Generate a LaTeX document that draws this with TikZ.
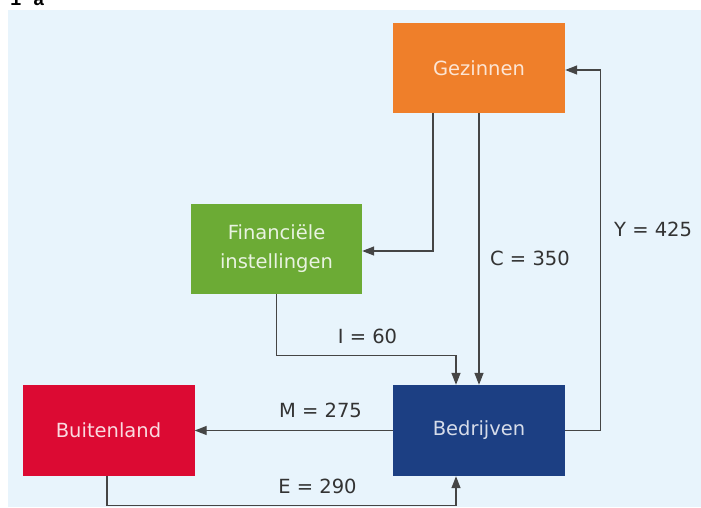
\documentclass[tikz,border=0pt]{standalone}
\usepackage{fontspec}
\setmainfont{DejaVu Sans}
\newfontfamily\monob{Liberation Mono}
\usetikzlibrary{arrows.meta}
\definecolor{bgblue}{HTML}{E8F4FC}
\definecolor{gezcol}{HTML}{EF7F2A}
\definecolor{fincol}{HTML}{6CAB35}
\definecolor{buicol}{HTML}{DC0A33}
\definecolor{bedcol}{HTML}{1C3F83}
\definecolor{linecol}{HTML}{454545}
\definecolor{labcol}{HTML}{333333}
\tikzset{
  box/.style={minimum width=172pt, minimum height=90pt, inner sep=0pt,
    font=\fontsize{19.5}{29}\selectfont, align=center},
  flow/.style={draw=linecol, line width=1.4pt,
    -{Triangle[length=12pt,width=9pt]}},
  lab/.style={inner sep=0pt, text=labcol, font=\fontsize{19.5}{24}\selectfont}
}
\begin{document}
\begin{tikzpicture}[x=1pt,y=-1pt]
\useasboundingbox (0,0) rectangle (701,507);
\clip (0,0) rectangle (701,507);
\fill[bgblue] (8,10) rectangle (701,507);
\node[anchor=base west, inner sep=0pt, font=\monob\bfseries\fontsize{19}{19}\selectfont] (hdr) at (10,5) {1 a};

\node[box, fill=gezcol, text=white!80!gezcol] (gez) at (479,68) {Gezinnen};
\node[box, fill=fincol, text=white!85!fincol, minimum width=171pt] (fin) at (276.5,249) {Financiële\\instellingen};
\node[box, fill=buicol, text=white!85!buicol, minimum height=91pt] (bui) at (108.5,430.5) {Buitenland};
\node[box, fill=bedcol, text=white!82!bedcol, minimum height=91pt] (bed) at (479,430.5) {Bedrijven};

% Gezinnen -> Financiele instellingen
\draw[flow] ([xshift=-46pt]gez.south) |- ([yshift=-2pt]fin.east);
% C
\draw[flow] (gez.south) -- (bed.north);
% I
\draw[flow] (fin.south) -- ++(0,61) -| ([xshift=-23pt]bed.north);
% Y
\draw[flow] (bed.east) -- ++(35,0) |- ([yshift=-2pt]gez.east);
% M
\draw[flow] (bed.west) -- (bui.east);
% E
\draw[flow] ([xshift=-1.5pt]bui.south) -- ++(0,29) -| ([xshift=-23pt]bed.south);

\node[lab, anchor=west] (lc) at (490,258) {C = 350};
\node[lab, anchor=west] (ly) at (614,229) {Y = 425};
\node[lab] (li) at (367.5,336) {I = 60};
\node[lab] (lm) at (320.5,410) {M = 275};
\node[lab] (le) at (317.5,486) {E = 290};
\end{tikzpicture}
\end{document}
